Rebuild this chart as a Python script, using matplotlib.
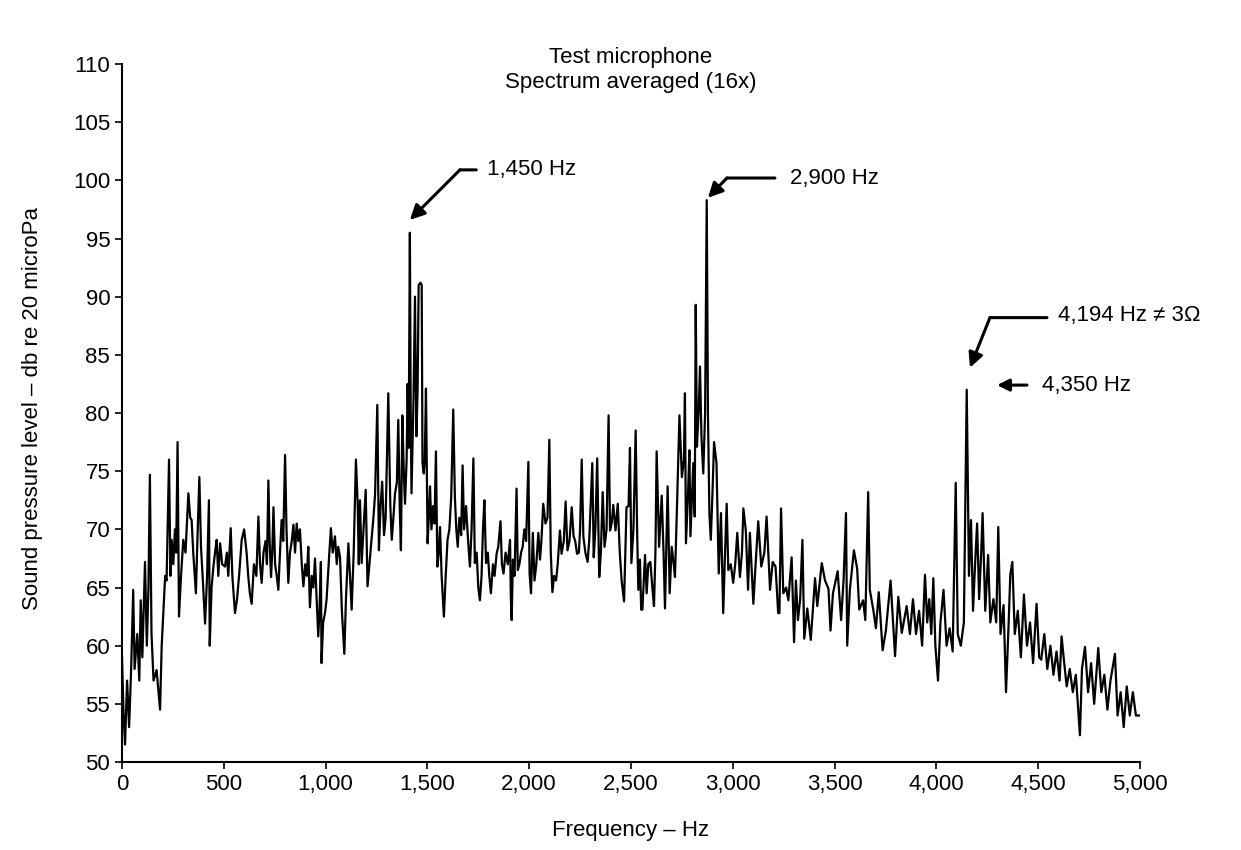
import numpy as np
import matplotlib
matplotlib.use("Agg")
import matplotlib.pyplot as plt

plt.rcParams['font.family'] = ['Liberation Sans', 'DejaVu Sans']

# spectrum trace (Hz, dB)
freq = [0, 8, 15, 25, 35, 45, 55, 62, 75, 85, 92, 100, 113, 122, 130, 137, 145, 155, 170, 187,
        195, 203, 212, 219, 231, 238, 244, 252, 260, 266, 273, 280, 290, 301, 312, 326, 335, 342, 350, 363,
        372, 380, 388, 396, 408, 418, 427, 431, 440, 449, 457, 465, 473, 482, 492, 506, 515, 522, 534, 542,
        555, 565, 575, 588, 600, 612, 620, 628, 637, 648, 660, 670, 678, 686, 695, 705, 712, 719, 725, 732,
        738, 744, 752, 760, 768, 776, 784, 792, 801, 808, 817, 825, 834, 842, 850, 858, 866, 874, 883, 891,
        900, 908, 915, 923, 932, 940, 948, 956, 964, 970, 977, 980, 988, 997, 1005, 1015, 1026, 1035, 1046, 1055,
        1062, 1071, 1080, 1092, 1100, 1112, 1120, 1128, 1138, 1149, 1158, 1163, 1169, 1177, 1186, 1197, 1206, 1215, 1225, 1234,
        1243, 1254, 1262, 1270, 1278, 1287, 1295, 1308, 1318, 1325, 1333, 1341, 1350, 1357, 1364, 1370, 1377, 1384, 1390, 1398,
        1403, 1408, 1414, 1418, 1422, 1428, 1432, 1439, 1446, 1452, 1457, 1466, 1472, 1476, 1482, 1487, 1493, 1501, 1507, 1513,
        1520, 1528, 1535, 1542, 1549, 1556, 1562, 1570, 1581, 1590, 1599, 1608, 1617, 1627, 1635, 1642, 1649, 1657, 1666, 1673,
        1680, 1690, 1700, 1709, 1717, 1726, 1733, 1742, 1750, 1758, 1766, 1773, 1780, 1788, 1797, 1804, 1812, 1822, 1830, 1840,
        1848, 1859, 1866, 1874, 1884, 1895, 1906, 1910, 1914, 1920, 1928, 1938, 1944, 1952, 1960, 1968, 1976, 1985, 1996, 2002,
        2009, 2018, 2026, 2035, 2045, 2053, 2060, 2069, 2080, 2090, 2099, 2106, 2114, 2122, 2132, 2140, 2151, 2159, 2170, 2179,
        2188, 2198, 2209, 2218, 2226, 2235, 2244, 2250, 2258, 2266, 2276, 2287, 2295, 2310, 2317, 2325, 2334, 2344, 2352, 2361,
        2370, 2380, 2390, 2397, 2405, 2413, 2424, 2435, 2445, 2454, 2466, 2478, 2488, 2495, 2502, 2512, 2523, 2530, 2536, 2544,
        2550, 2556, 2569, 2577, 2585, 2595, 2605, 2613, 2620, 2626, 2638, 2651, 2660, 2667, 2680, 2690, 2700, 2710, 2716, 2726,
        2738, 2750, 2760, 2765, 2770, 2780, 2787, 2792, 2806, 2813, 2818, 2824, 2832, 2839, 2846, 2855, 2864, 2872, 2878, 2885,
        2892, 2900, 2908, 2920, 2931, 2942, 2953, 2962, 2970, 2978, 2990, 3002, 3012, 3022, 3035, 3045, 3052, 3064, 3075, 3084,
        3101, 3112, 3125, 3140, 3155, 3166, 3183, 3196, 3210, 3223, 3229, 3237, 3248, 3262, 3273, 3289, 3301, 3310, 3320, 3331,
        3342, 3351, 3366, 3383, 3404, 3415, 3437, 3453, 3470, 3480, 3492, 3515, 3532, 3544, 3556, 3562, 3575, 3595, 3611, 3621,
        3640, 3651, 3665, 3673, 3690, 3703, 3717, 3736, 3752, 3775, 3797, 3813, 3830, 3854, 3870, 3885, 3900, 3915, 3930, 3944,
        3955, 3965, 3975, 3985, 3995, 4008, 4020, 4035, 4050, 4065, 4080, 4095, 4105, 4120, 4135, 4149, 4160, 4170, 4180, 4190,
        4200, 4210, 4220, 4227, 4240, 4254, 4265, 4280, 4294, 4304, 4315, 4330, 4342, 4355, 4363, 4373, 4385, 4400, 4415, 4430,
        4445, 4460, 4475, 4492, 4505, 4515, 4530, 4545, 4560, 4575, 4590, 4605, 4615, 4625, 4640, 4655, 4670, 4685, 4705, 4715,
        4730, 4745, 4760, 4775, 4795, 4810, 4825, 4840, 4855, 4877, 4890, 4905, 4920, 4935, 4950, 4965, 4980, 5000]
level = [59, 54, 51.5, 57, 53, 58, 64.8, 58, 61, 57, 63.9, 59, 67.2, 60, 65, 74.7, 61, 57, 57.9, 54.5,
         60, 62.8, 66, 65.6, 76, 66, 69.1, 67, 70, 68, 77.5, 62.5, 66, 69.1, 68, 73.1, 71, 70.8, 68, 64.5,
         70, 74.5, 68.5, 66, 61.9, 66, 72.5, 60, 65, 66.8, 68, 69.1, 66, 68.8, 67, 66.8, 68, 66, 70.1, 66,
         62.8, 64, 66, 69.1, 70, 68, 66, 64.5, 63.6, 67, 66, 71.1, 67, 65.4, 68, 69, 67, 74.2, 69, 65.9,
         68, 71.9, 67, 66, 64.8, 68, 70.8, 69, 76.4, 70, 65.4, 68, 69, 70.4, 68, 70.5, 69, 70, 67, 65.1,
         67, 66, 68.5, 63.3, 66, 65, 67.5, 64, 60.8, 63, 67.2, 58.5, 62, 62.8, 64, 67, 70.1, 68, 69.4, 67,
         68.5, 67.6, 63, 59.3, 64, 68.8, 66, 63.1, 68, 76, 72, 67, 72.5, 67.1, 70, 73.4, 65.1, 67, 69, 70.8,
         73, 80.7, 68.2, 72, 74.1, 69.5, 71, 81.7, 72, 69.1, 71, 73.1, 74, 79.4, 72, 68.2, 79.8, 75, 72.2, 76,
         82.5, 77, 95.5, 80, 73.1, 78, 81.4, 90, 78, 82, 91, 91.2, 91, 75.7, 74.8, 75.8, 82.1, 68.8, 71, 73.7,
         70, 72, 70.5, 76.7, 66.8, 68, 70.2, 66, 62.5, 66, 69.1, 70, 72.8, 80.3, 72.8, 70, 68.5, 71, 69.5, 75.5,
         70, 72, 69, 66.8, 70, 76.1, 67.1, 68, 65, 63.9, 66, 70, 72.5, 67.1, 68, 66, 64.5, 67, 66, 67.9,
         68.5, 70.7, 67, 66.2, 68, 67, 69.1, 64, 62.2, 67.4, 66, 73.5, 66.5, 67, 68, 68.5, 70, 69, 75.8, 66.2,
         64.5, 69.7, 65.6, 67, 69.7, 67.4, 69, 72.2, 70.5, 71, 77.7, 68, 64.6, 66, 65.6, 67, 69.9, 67.9, 69, 72.4,
         68.2, 69, 71.9, 69.4, 69, 67.9, 68, 70, 76, 69.4, 68, 67.2, 69.1, 75.7, 67.6, 70, 76.1, 65.9, 68, 73.2,
         68.5, 70, 79.8, 69.9, 70.5, 72.1, 69.9, 72.2, 68, 65.6, 63.8, 71.9, 72, 77, 67.1, 70, 78.5, 70, 64.8, 67.4,
         63.1, 63.1, 67.8, 64.5, 67, 67.2, 65, 63.4, 68, 76.7, 68.5, 72.9, 68, 63.2, 73.7, 64.5, 68.5, 67, 65.9, 72,
         79.8, 74.5, 76, 81.7, 68.8, 73, 76.8, 69.4, 75.7, 71.1, 89.3, 77.1, 80, 84, 78, 74.8, 80, 98.3, 80, 71.4,
         69.1, 73, 77.5, 75.7, 66.2, 71.4, 62.8, 68, 72.2, 66.5, 67, 65.4, 67, 69.7, 65.9, 68, 71.8, 69.9, 64.8, 69.7,
         63.6, 67, 70.7, 66.8, 68, 71.1, 64.8, 67.2, 66.8, 62.8, 62.8, 71.8, 64.5, 65, 63.9, 67.6, 60.3, 65.6, 62.2, 64,
         69.1, 60.6, 63.2, 60.5, 65.8, 63.4, 67.1, 65.6, 64.9, 61.3, 64.5, 66.4, 62.2, 65.6, 71.4, 60, 64.8, 68.2, 66.6, 63.1,
         63.9, 62.2, 73.2, 64.8, 63.1, 61.5, 64.6, 59.6, 61.3, 65.6, 59.1, 64.2, 61.1, 63.4, 61, 64, 61, 63, 60, 66.1,
         62, 64, 61, 65.8, 60, 57, 62, 64.8, 60, 61.5, 59.5, 74, 61, 60, 62, 82, 66, 70.8, 63, 67,
         70.5, 64, 68, 71.4, 63, 67.8, 62, 64, 62, 70.2, 61, 63.5, 56, 62, 66.1, 67.2, 61, 63, 59, 64.4,
         60, 62, 58.5, 63.6, 59, 58.8, 61, 58, 60, 57.5, 59.5, 57, 60.8, 59, 56.5, 58, 56, 57.5, 52.3, 58,
         59.9, 56, 58.5, 55, 59.8, 56, 57.5, 54.5, 57, 59.3, 54, 56, 53, 56.5, 54, 56, 54, 54]

xticks = [0, 500, 1000, 1500, 2000, 2500, 3000, 3500, 4000, 4500, 5000]
yticks = [50, 55, 60, 65, 70, 75, 80, 85, 90, 95, 100, 105, 110]

fig = plt.figure(figsize=(12.41, 8.5), dpi=100)
ax = fig.add_axes([0.0983, 0.1035, 0.8203, 0.8212])

ax.plot(freq, level, color='black', lw=1.6)

ax.set_xlim(0, 5000)
ax.set_ylim(50, 110)
ax.set_xticks(xticks)
ax.set_xticklabels(['{:,}'.format(t) for t in xticks])
ax.set_yticks(yticks)
ax.tick_params(labelsize=16, length=5, width=1.2, direction='out')
for s in ['top', 'right']:
    ax.spines[s].set_visible(False)
for s in ['left', 'bottom']:
    ax.spines[s].set_linewidth(1.5)

fig.text(0.5085, 0.932, 'Test microphone', ha='center', va='center', fontsize=16)
fig.text(0.5085, 0.9035, 'Spectrum averaged (16x)', ha='center', va='center', fontsize=16)
fig.text(0.5085, 0.0235, 'Frequency \u2013 Hz', ha='center', va='center', fontsize=16)
fig.text(0.026, 0.52, 'Sound pressure level \u2013 db re 20 microPa', rotation=90,
         ha='center', va='center', fontsize=16)

# callouts: bent leader = straight segment + arrow
arw = dict(arrowstyle='-|>', color='black', lw=2.2, mutation_scale=22, shrinkA=0, shrinkB=0)
seg = dict(arrowstyle='-', color='black', lw=2.2, shrinkA=0, shrinkB=0)

ax.annotate('', xy=(1414, 96.6), xytext=(1660, 100.9), arrowprops=arw)
ax.annotate('', xy=(1660, 100.9), xytext=(1740, 100.9), arrowprops=seg)
ax.text(1793, 100.9, '1,450 Hz', fontsize=16, va='center')

ax.annotate('', xy=(2878, 98.5), xytext=(2971, 100.2), arrowprops=arw)
ax.annotate('', xy=(2971, 100.2), xytext=(3207, 100.2), arrowprops=seg)
ax.text(3281, 100.2, '2,900 Hz', fontsize=16, va='center')

ax.annotate('', xy=(4165, 83.9), xytext=(4263, 88.2), arrowprops=arw)
ax.annotate('', xy=(4263, 88.2), xytext=(4543, 88.2), arrowprops=seg)
ax.text(4597, 88.4, '4,194 Hz \u2260 3\u03a9', fontsize=16, va='center')

ax.annotate('', xy=(4298, 82.4), xytext=(4445, 82.4),
            arrowprops=dict(arrowstyle='-|>', color='black', lw=2.2, mutation_scale=18,
                            shrinkA=0, shrinkB=0))
ax.text(4519, 82.4, '4,350 Hz', fontsize=16, va='center')

fig.savefig('out.png', dpi=100)
